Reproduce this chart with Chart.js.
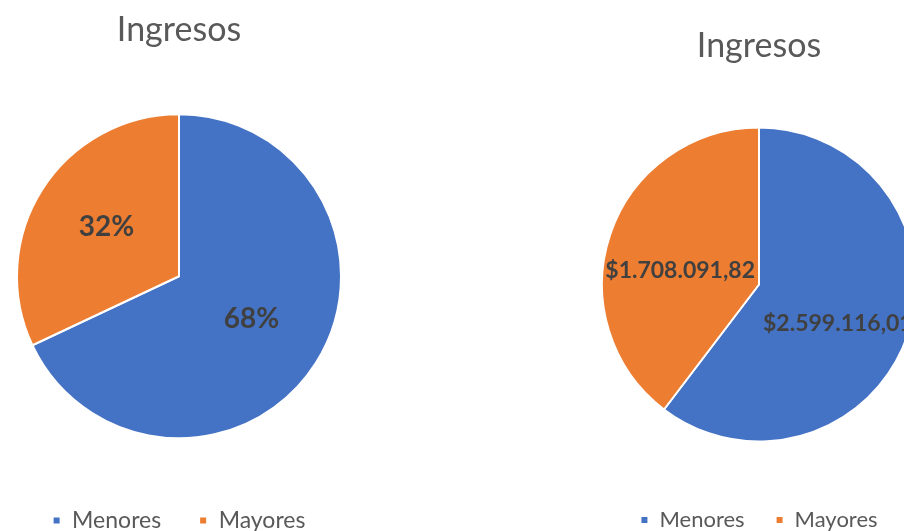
<!DOCTYPE html>
<html>
<head>
<meta charset="utf-8">
<script src="https://cdn.jsdelivr.net/npm/chart.js@4"></script>
<style>
  html, body { margin: 0; padding: 0; background: #fff; }
  body { width: 904px; height: 531px; overflow: hidden; position: relative; }
  canvas { position: absolute; top: 0; }
  #pieLeft { left: 2px; }
  #pieRight { left: 599px; }
</style>
</head>
<body>
<canvas id="pieLeft" width="354" height="542"></canvas>
<canvas id="pieRight" width="320" height="541"></canvas>
<script>
// data
const categorias = ['Menores', 'Mayores'];
const porcentajes = [68, 32];
const ingresos = [2599116.01, 1708091.82];
const titulo = 'Ingresos';
const colores = ['#4472C4', '#ED7D31'];

// $1.708.091,82 style
function moneda(v) {
  const partes = v.toFixed(2).split('.');
  const entero = partes[0].replace(/\B(?=(\d{3})+(?!\d))/g, '.');
  return '$' + entero + ',' + partes[1];
}

// labels inside each slice
const etiquetas = {
  id: 'etiquetas',
  afterDatasetsDraw(chart, args, opts) {
    const ctx = chart.ctx;
    const meta = chart.getDatasetMeta(0);
    const valores = chart.data.datasets[0].data;
    ctx.save();
    ctx.font = 'bold ' + opts.size + 'px Lato';
    ctx.fillStyle = '#404040';
    ctx.textAlign = 'center';
    ctx.textBaseline = 'middle';
    meta.data.forEach((arc, i) => {
      const p = arc.getProps(['x', 'y', 'startAngle', 'endAngle', 'outerRadius']);
      const mid = (p.startAngle + p.endAngle) / 2;
      const d = p.outerRadius * opts.dist;
      ctx.fillText(opts.format(valores[i]), p.x + Math.cos(mid) * d, p.y + Math.sin(mid) * d + opts.dy);
    });
    ctx.restore();
  }
};

// canvasH, title centre, legend text centre, pie centre
function crearPie(id, valores, cfg) {
  const tl = cfg.titleSize * 1.2;
  const titleTop = cfg.titleY - tl / 2;
  const legendTop = cfg.legendY - cfg.legendSize / 2 - cfg.legendPad;
  const areaTop = 2 * cfg.pieY - legendTop;
  return new Chart(document.getElementById(id), {
    type: 'pie',
    data: {
      labels: categorias,
      datasets: [{
        data: valores,
        backgroundColor: colores,
        borderColor: '#ffffff',
        borderWidth: 2,
        radius: cfg.radius
      }]
    },
    options: {
      responsive: false,
      animation: false,
      events: [],
      plugins: {
        title: {
          display: true,
          text: titulo,
          color: '#595959',
          font: { family: 'Lato', size: cfg.titleSize, weight: 'normal' },
          padding: { top: titleTop, bottom: areaTop - titleTop - tl }
        },
        legend: {
          position: 'bottom',
          labels: {
            color: '#595959',
            font: { family: 'Lato', size: cfg.legendSize },
            boxWidth: 8,
            boxHeight: 8,
            padding: cfg.legendPad
          }
        },
        tooltip: { enabled: false },
        etiquetas: { size: cfg.labelSize, dist: 0.53, dy: cfg.labelDy, format: cfg.format }
      }
    },
    plugins: [etiquetas]
  });
}

crearPie('pieLeft', porcentajes, {
  titleSize: 34, titleY: 30,
  legendSize: 23, legendY: 520, legendPad: 38,
  pieY: 276, radius: 162,
  labelSize: 28, labelDy: -3, format: v => v + '%'
});

crearPie('pieRight', ingresos, {
  titleSize: 34, titleY: 46,
  legendSize: 22, legendY: 520, legendPad: 31,
  pieY: 284.5, radius: 157,
  labelSize: 23, labelDy: 13, format: moneda
});
</script>
</body>
</html>
